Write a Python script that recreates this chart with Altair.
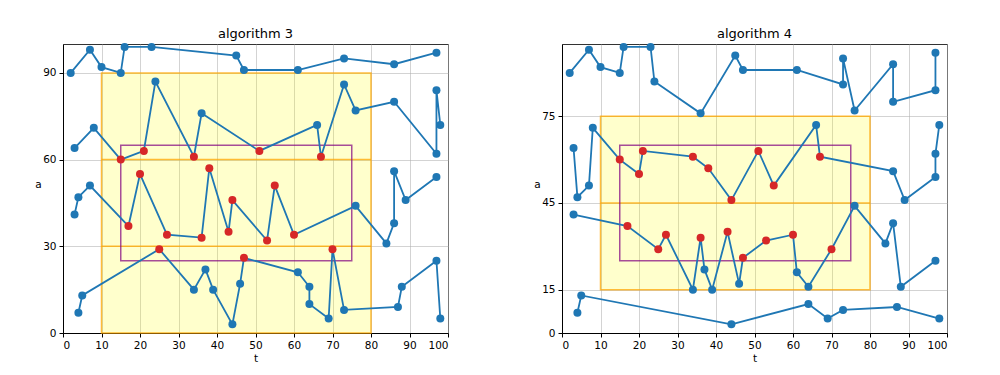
import altair as alt
import pandas as pd
import numpy as np

# ---- data ----
t_vals = [2, 3, 3, 4, 4, 5, 7, 7, 8, 10, 15, 15, 16, 17, 20, 21, 23, 24, 25, 27,
          34, 34, 36, 36, 37, 38, 39, 43, 44, 44, 45, 46, 47, 47, 51, 53, 55, 60,
          61, 61, 64, 64, 66, 67, 69, 70, 73, 73, 73, 76, 76, 84, 86, 86, 86, 86,
          87, 88, 89, 97, 97, 97, 97, 97, 98, 98]
a_vals = [90, 64, 41, 47, 7, 13, 98, 51, 71, 92, 90, 60, 99, 37, 55, 63, 99, 87, 29, 34,
          61, 15, 76, 33, 22, 57, 15, 35, 46, 3, 96, 17, 91, 26, 63, 32, 51, 34,
          91, 21, 16, 10, 72, 61, 5, 29, 8, 86, 95, 77, 44, 31, 93, 80, 38, 56,
          9, 16, 46, 54, 62, 84, 97, 25, 72, 5]

edges3 = [30, 60, 90]
edges4 = [15, 45, 75]
ticks3 = [0, 30, 60, 90]
ticks4 = [0, 15, 45, 75]
t_ticks = [0, 10, 20, 30, 40, 50, 60, 70, 80, 90, 100]
yellow_t = [10, 80]
yellow_a3 = [0, 90]
yellow_a4 = [15, 75]
purple_t = [15, 75]
purple_a = [25, 65]

W, H = 385, 289
FONT = "DejaVu Sans"


def panel(title, edges, ticks, ya):
    df = pd.DataFrame({"t": t_vals, "a": a_vals})
    df["idx"] = np.arange(len(df))
    df["band"] = np.searchsorted(edges, df["a"].to_numpy(), side="right")
    df["inside"] = ((df.t >= purple_t[0]) & (df.t <= purple_t[1]) &
                    (df.a >= purple_a[0]) & (df.a <= purple_a[1]))

    xs = alt.Scale(domain=[0, 100], nice=False, zero=False)
    ys = alt.Scale(domain=[0, 100], nice=False, zero=False)
    xaxis = alt.Axis(values=t_ticks, title="t", grid=True, titlePadding=3)
    yaxis = alt.Axis(values=ticks, title="a", grid=True, titleAngle=0,
                     titleX=-25, titleY=H / 2 - 4, titleAlign="center",
                     titleBaseline="middle")
    X = lambda: alt.X("t:Q", scale=xs, axis=xaxis)
    Y = lambda: alt.Y("a:Q", scale=ys, axis=yaxis)

    ydf = pd.DataFrame({"t": [yellow_t[0]], "t2": [yellow_t[1]],
                        "a": [ya[0]], "a2": [ya[1]]})
    yellow = alt.Chart(ydf).mark_rect(
        fill="yellow", fillOpacity=0.2, stroke="orange", strokeOpacity=0.75, strokeWidth=1.5
    ).encode(x=X(), x2="t2:Q", y=Y(), y2="a2:Q")

    inner = [e for e in edges if ya[0] < e < ya[1]]
    rdf = pd.DataFrame({"a": inner, "t": [yellow_t[0]] * len(inner),
                        "t2": [yellow_t[1]] * len(inner)})
    rules = alt.Chart(rdf).mark_rule(
        color="orange", opacity=0.75, strokeWidth=1.5
    ).encode(x=X(), x2="t2:Q", y=Y())

    pdf = pd.DataFrame({"t": [purple_t[0]], "t2": [purple_t[1]],
                        "a": [purple_a[0]], "a2": [purple_a[1]]})
    purple = alt.Chart(pdf).mark_rect(
        filled=False, stroke="purple", strokeOpacity=0.7, strokeWidth=1.5
    ).encode(x=X(), x2="t2:Q", y=Y(), y2="a2:Q")

    line = alt.Chart(df).mark_line(color="#1f77b4", strokeWidth=1.8).encode(
        x=X(), y=Y(), detail="band:N", order="idx:Q",
    )
    pts = alt.Chart(df).mark_circle(size=64, opacity=1).encode(
        x=X(), y=Y(),
        color=alt.condition("datum.inside", alt.value("#d62728"), alt.value("#1f77b4")),
        order="inside:N",
    )

    return alt.layer(yellow, rules, purple, line, pts).properties(
        width=W, height=H,
        title=alt.TitleParams(title, fontSize=13, font=FONT, fontWeight="normal",
                              offset=2, color="black"),
    )


chart = alt.hconcat(
    panel("algorithm 3", edges3, ticks3, yellow_a3),
    panel("algorithm 4", edges4, ticks4, yellow_a4),
    spacing=84,
).properties(
    padding={"left": 26, "top": 19, "right": 5, "bottom": 5},
).configure_axis(
    labelFont=FONT, labelFontSize=10.5, labelColor="black",
    titleFont=FONT, titleFontSize=10.5, titleFontWeight="normal", titleColor="black",
    tickColor="black", tickSize=4, labelPadding=3,
    domainColor="black",
    gridColor="#b0b0b0", gridOpacity=0.7, gridWidth=0.8,
).configure_view(
    stroke="#333", strokeWidth=1,
)

chart.save("out.html", embed_options={"renderer": "svg", "actions": False})
